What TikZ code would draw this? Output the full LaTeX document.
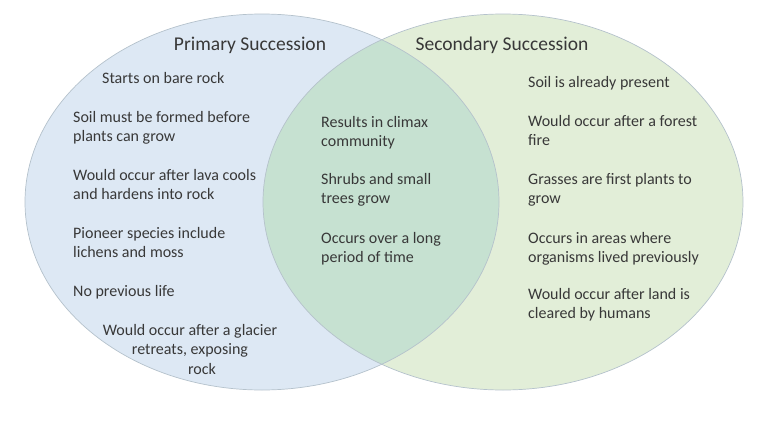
\documentclass[tikz,border=0pt]{standalone}
\usepackage{fontspec}
\setmainfont{Carlito}
\usepackage{xcolor}
\definecolor{primfill}{HTML}{DDE8F4}
\definecolor{secfill}{HTML}{E2EED8}
\definecolor{bothfill}{HTML}{C6E1D1}
\definecolor{rimgray}{HTML}{B5C2CC}
\definecolor{inkgray}{HTML}{383838}
\begin{document}
\begin{tikzpicture}[x=1pt, y=-1pt,
    item/.style={anchor=north west, align=left, inner sep=0pt, text=inkgray,
      font=\fontsize{16}{19.5}\selectfont},
    heading/.style={anchor=base, inner sep=0pt, text=inkgray,
      font=\fontsize{19.5}{23}\selectfont}]
  \useasboundingbox (0,0) rectangle (761,434);
  % Left ellipse: primary succession
  \fill[primfill] (262,202) ellipse [x radius=237pt, y radius=188pt];
  % Right ellipse: secondary succession
  \fill[secfill] (503,202) ellipse [x radius=240pt, y radius=188pt];
  % Overlap of both ellipses
  \begin{scope}
    \clip (262,202) ellipse [x radius=237pt, y radius=188pt];
    \fill[bothfill] (503,202) ellipse [x radius=240pt, y radius=188pt];
  \end{scope}
  \draw[rimgray, line width=0.7pt] (262,202) ellipse [x radius=237pt, y radius=188pt];
  \draw[rimgray, line width=0.7pt] (503,202) ellipse [x radius=240pt, y radius=188pt];
  % Headings
  \node[heading] (prim) at (250,50) {Primary Succession};
  \node[heading] (sec) at (502,50) {Secondary Succession};
  % Primary only
  \node[item] (p1) at (102,72) {Starts on bare rock};
  \node[item] (p2) at (73,111) {Soil must be formed before\\plants can grow};
  \node[item] (p3) at (73,169) {Would occur after lava cools\\and hardens into rock};
  \node[item] (p4) at (73,227) {Pioneer species include\\lichens and moss};
  \node[item] (p5) at (73,285) {No previous life};
  \node[item, anchor=north, align=center] (p6) at (190,324)
    {Would occur after a glacier\\retreats, exposing\\\hspace*{24pt}rock};
  % Common to both
  \node[item] (b1) at (321,116) {Results in climax\\community};
  \node[item] (b2) at (321,173) {Shrubs and small\\trees grow};
  \node[item] (b3) at (321,232) {Occurs over a long\\period of time};
  % Secondary only
  \node[item] (s1) at (528,76) {Soil is already present};
  \node[item] (s2) at (528,115) {Would occur after a forest\\fire};
  \node[item] (s3) at (528,173) {Grasses are first plants to\\grow};
  \node[item] (s4) at (528,232) {Occurs in areas where\\organisms lived previously};
  \node[item] (s5) at (528,288) {Would occur after land is\\cleared by humans};
\end{tikzpicture}
\end{document}
